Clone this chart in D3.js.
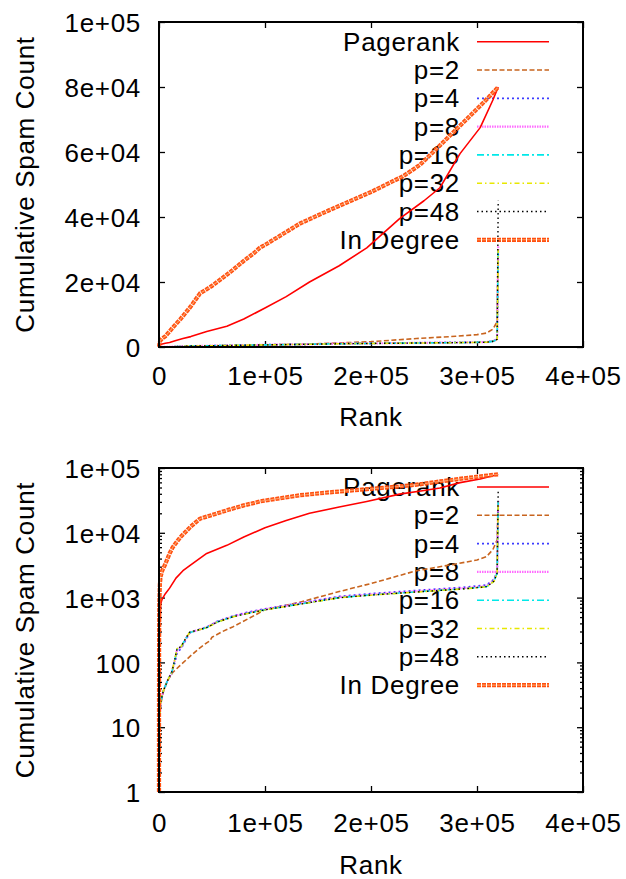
<!DOCTYPE html>
<html><head><meta charset="utf-8">
<script src="https://cdn.jsdelivr.net/npm/d3@7"></script>
<style>
html,body{margin:0;padding:0;background:#fff;}
text{font-family:"Liberation Sans",Arial,sans-serif;font-size:26px;letter-spacing:0.7px;fill:#000;}
</style></head>
<body>
<svg id="c" width="626" height="879"></svg>
<script>
// ---------- data ----------
const seriesNames = ["Pagerank","p=2","p=4","p=8","p=16","p=32","p=48","In Degree"];
const xTickValues = [0,100000,200000,300000,400000];
const xTickLabels = ["0","1e+05","2e+05","3e+05","4e+05"];
const yLinTickValues = [0,20000,40000,60000,80000,100000];
const yLinTickLabels = ["0","2e+04","4e+04","6e+04","8e+04","1e+05"];
const yLogTickValues = [1,10,100,1000,10000,100000];
const yLogTickLabels = ["1","10","100","1e+03","1e+04","1e+05"];

const pagerank = [[1,60],[300,350],[1500,800],[3000,950],[6000,1150],[10000,1400],[16000,2000],[22600,2600],[30000,3200],[45000,4800],[64000,6400],[80000,8600],[100000,12000],[120000,15500],[142000,20000],[170000,25000],[196000,30500],[227000,39500],[250000,45000],[265000,49000],[284000,59500],[303000,67500],[315000,76000],[320000,80000]];
const p2 = [[1,1],[100,5],[500,12],[1500,22],[4000,35],[8000,52],[13000,70],[20000,90],[29000,123],[38000,165],[45000,200],[48000,215],[50000,245],[60000,300],[70000,356],[85000,480],[100000,650],[133000,850],[170000,1240],[200000,1650],[243000,2600],[280000,3300],[300000,3800],[309000,4300],[315000,5500],[319000,7800],[320000,29000]];
const p4 = [[1,1],[100,6],[500,14],[1500,24],[4000,36],[8000,52],[12000,70],[15000,100],[17000,140],[21000,165],[25000,220],[29000,285],[35000,310],[45000,350],[55000,430],[70000,520],[85000,600],[100000,670],[140000,860],[170000,1040],[200000,1150],[250000,1310],[290000,1450],[309000,1560],[316000,1900],[319000,2500],[320000,30500]];
const p8 = [[1,1],[100,6],[500,14],[1500,24],[4000,36],[8000,52],[12000,70],[15000,108],[17000,158],[21000,172],[25000,228],[29000,290],[35000,310],[45000,348],[55000,425],[70000,515],[85000,590],[100000,660],[140000,845],[170000,1020],[200000,1120],[250000,1280],[290000,1410],[309000,1510],[316000,1850],[319000,2450],[320000,31000]];
const p16 = [[1,1],[100,6],[500,14],[1500,24],[4000,36],[8000,52],[12000,70],[15000,110],[17000,160],[21000,175],[25000,230],[29000,290],[35000,308],[45000,345],[55000,420],[70000,510],[85000,580],[100000,650],[140000,830],[170000,1000],[200000,1100],[250000,1250],[290000,1380],[309000,1480],[316000,1800],[319000,2400],[320000,30000]];
const p32 = [[1,1],[100,6],[500,14],[1500,24],[4000,36],[8000,52],[12000,70],[15000,112],[17000,162],[21000,176],[25000,232],[29000,292],[35000,308],[45000,343],[55000,418],[70000,505],[85000,575],[100000,645],[140000,825],[170000,995],[200000,1090],[250000,1240],[290000,1370],[309000,1470],[316000,1780],[319000,2380],[320000,30000]];
const p48 = [[1,1],[100,6],[500,14],[1500,24],[4000,36],[8000,52],[12000,70],[15000,112],[17000,162],[21000,177],[25000,232],[29000,293],[35000,310],[45000,345],[55000,420],[70000,508],[85000,578],[100000,648],[140000,828],[170000,998],[200000,1095],[250000,1245],[290000,1375],[309000,1475],[316000,1790],[319000,2390],[320000,45000]];
const inDegree = [[1,1],[20,15],[100,200],[300,800],[800,1600],[1500,2100],[3000,2600],[6000,3300],[10000,4800],[13000,6000],[20000,8500],[30000,12500],[38700,16500],[50000,18800],[67000,23000],[80000,26500],[90000,29000],[95000,30500],[100000,31400],[133000,38000],[160000,42000],[200000,47700],[230000,52500],[246000,56000],[265000,62000],[290000,70000],[310000,76500],[320000,80000]];

const seriesData = [pagerank,p2,p4,p8,p16,p32,p48,inDegree];
const styles = [
  {c:"#ff0000", w:1.6, d:null},
  {c:"#c8641e", w:1.6, d:"5,2.5"},
  {c:"#3c3cff", w:1.8, d:"2,3"},
  {c:"#ff6cff", w:2.2, d:"1.5,1"},
  {c:"#00e8e8", w:1.6, d:"7,3,2,3"},
  {c:"#e8e800", w:1.6, d:"5,3,1.5,3"},
  {c:"#000000", w:1.4, d:"1.5,3"},
  {c:"#ff5010", w:4.2, d:"4,1", inner:"#ff9a60"}
];

// ---------- drawing ----------
const svg = d3.select("#c");
const L = 159, R = 583;

function panel(y0, y1, yScaleType, legendY0, xLabPad, rankY) {
  const x = d3.scaleLinear().domain([0,400000]).range([L,R]);
  let y;
  if (yScaleType === "lin") y = d3.scaleLinear().domain([0,100000]).range([y1,y0]);
  else y = d3.scaleLog().domain([1,100000]).range([y1,y0]);
  const g = svg.append("g");

  // legend (drawn first, curves overlay)
  const lg = g.append("g");
  seriesNames.forEach((n,i) => {
    const ly = legendY0 + i*28.3;
    lg.append("text").attr("x",460).attr("y",ly+9).attr("text-anchor","end").text(n);
    const s = styles[i];
    const ln = lg.append("line").attr("x1",477).attr("x2",549).attr("y1",ly).attr("y2",ly)
      .attr("stroke",s.c).attr("stroke-width",s.w);
    if (s.d) ln.attr("stroke-dasharray",s.d);
    if (s.inner) lg.append("line").attr("x1",477).attr("x2",549).attr("y1",ly).attr("y2",ly)
      .attr("stroke",s.inner).attr("stroke-width",1.1).attr("stroke-dasharray",s.d);
  });

  // axes
  const yTicks = yScaleType==="lin" ? yLinTickValues : yLogTickValues;
  const yLabs = yScaleType==="lin" ? yLinTickLabels : yLogTickLabels;
  const ax = d3.axisLeft(y).tickValues(yTicks).tickFormat((d,i)=>yLabs[i]).tickSizeInner(-6).tickSizeOuter(0).tickPadding(18);
  const ayl = g.append("g").attr("transform",`translate(${L},0)`).call(ax);
  ayl.selectAll("text").attr("dy","0.37em");
  g.append("g").attr("transform",`translate(${R},0)`).call(d3.axisRight(y).tickValues(yTicks).tickFormat("").tickSizeInner(-6).tickSizeOuter(0));
  if (yScaleType==="log") {
    const minor = [];
    for (let k=0;k<5;k++) for (let m=2;m<10;m++) minor.push(m*Math.pow(10,k));
    g.append("g").attr("transform",`translate(${L},0)`).call(d3.axisLeft(y).tickValues(minor).tickFormat("").tickSizeInner(-3).tickSizeOuter(0));
    g.append("g").attr("transform",`translate(${R},0)`).call(d3.axisRight(y).tickValues(minor).tickFormat("").tickSizeInner(-3).tickSizeOuter(0));
  }
  g.append("g").attr("transform",`translate(0,${y1})`).call(d3.axisBottom(x).tickValues(xTickValues).tickFormat((d,i)=>xTickLabels[i]).tickSizeInner(-6).tickSizeOuter(0).tickPadding(xLabPad));
  g.append("g").attr("transform",`translate(0,${y0})`).call(d3.axisTop(x).tickValues(xTickValues).tickFormat("").tickSizeInner(-6).tickSizeOuter(0));
  g.selectAll(".domain").remove();
  g.selectAll(".tick line").attr("stroke","#000").attr("stroke-width",1.3);
  g.selectAll(".tick text").style("font-size","26px").style("font-family","'Liberation Sans',Arial,sans-serif").attr("fill","#000");

  // curves
  const line = d3.line().x(d=>x(d[0])).y(d=>y(Math.max(d[1], yScaleType==="log"?1:0)));
  seriesData.forEach((data,i) => {
    const s = styles[i];
    const p = g.append("path").attr("d",line(data)).attr("fill","none")
      .attr("stroke",s.c).attr("stroke-width",s.w).attr("stroke-linejoin","round");
    if (s.d) p.attr("stroke-dasharray",s.d);
    if (s.inner) g.append("path").attr("d",line(data)).attr("fill","none")
      .attr("stroke",s.inner).attr("stroke-width",1.1).attr("stroke-dasharray",s.d);
  });

  // border
  g.append("rect").attr("x",L).attr("y",y0).attr("width",R-L).attr("height",y1-y0)
    .attr("fill","none").attr("stroke","#000").attr("stroke-width",2);

  // axis titles
  g.append("text").attr("transform",`translate(34,${(y0+y1)/2}) rotate(-90)`).attr("text-anchor","middle").text("Cumulative Spam Count");
  g.append("text").attr("x",(L+R)/2).attr("y",rankY).attr("text-anchor","middle").text("Rank");
}

panel(22, 347, "lin", 41.7, 19.5, 426);
panel(468, 792, "log", 487, 22, 874);
</script>
</body></html>
